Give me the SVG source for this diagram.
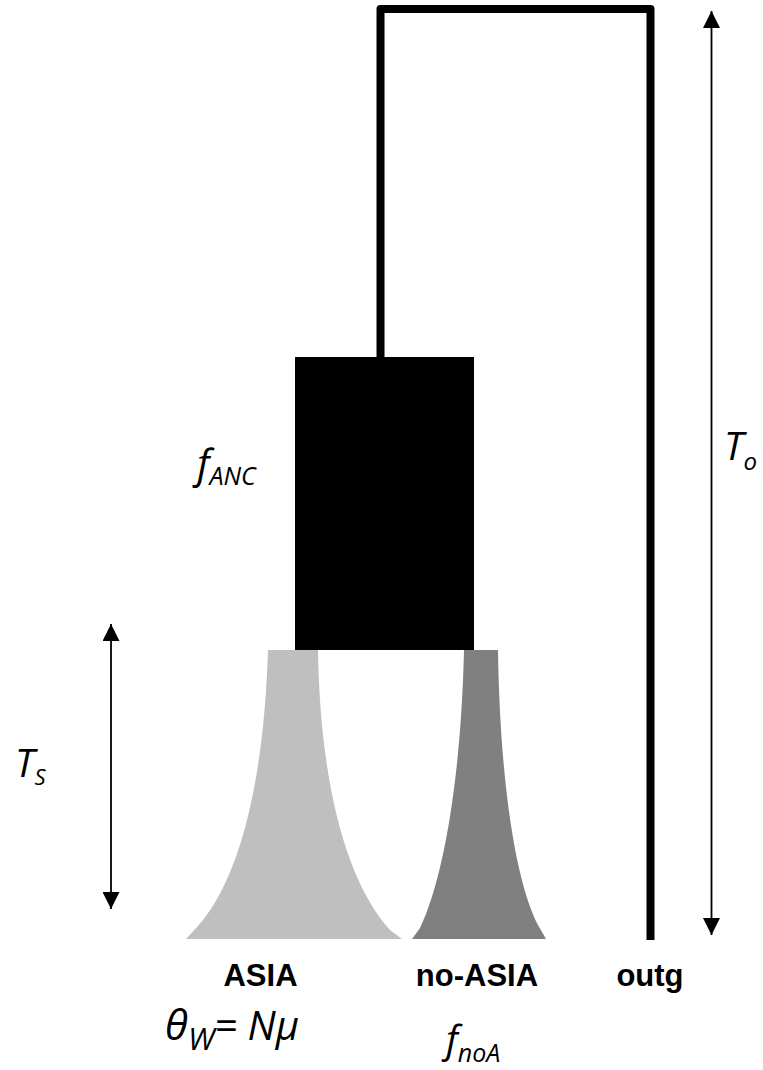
<svg xmlns="http://www.w3.org/2000/svg" width="763" height="1070" viewBox="0 0 763 1070">
<style>
.lab{font-family:"Liberation Sans",Arial,sans-serif;font-weight:bold;font-size:31px;fill:#000;text-anchor:middle}
.math{font-family:"Open Sans","Liberation Sans",sans-serif;font-style:italic;fill:#000}
.dim{stroke:#000;stroke-width:1.8;fill:none}
</style>
<defs>
<marker id="ah" viewBox="0 0 10 10" refX="10" refY="5" markerWidth="17" markerHeight="17" markerUnits="userSpaceOnUse" orient="auto-start-reverse">
<path d="M0,0 L10,5 L0,10 Z" fill="#000"/>
</marker>
</defs>
<g id="connectors">
<path d="M380.5,357 V9 H650.5 V940" fill="none" stroke="#000" stroke-width="8" stroke-linejoin="round"/>
<line class="dim" x1="711.5" y1="11" x2="711.5" y2="935" marker-start="url(#ah)" marker-end="url(#ah)"/>
<line class="dim" x1="111" y1="624" x2="111" y2="909" marker-start="url(#ah)" marker-end="url(#ah)"/>
</g>
<g id="ancestral">
<rect x="295" y="357" width="179" height="293" fill="#000"/>
</g>
<g id="asia">
<path d="M268,650 H318 C320,780 345,880 390,930 L402,939 H186 L197,927 C240,880 264,780 268,650 Z" fill="#BFBFBF"/>
</g>
<g id="noasia">
<path d="M464,650 H498 C500,780 515,880 538,925 L546,939 H412 L420,928 C443,880 461,780 464,650 Z" fill="#808080"/>
</g>
<g id="labels">
<text class="lab" x="260.5" y="986">ASIA</text>
<text class="lab" x="477" y="986">no-ASIA</text>
<text class="lab" x="650" y="986">outg</text>
<text class="math" x="197" y="478" font-size="40">f<tspan font-size="25" dy="7">ANC</tspan></text>
<text class="math" x="724" y="460" font-size="39">T<tspan font-size="24" dy="10">o</tspan></text>
<text class="math" x="15" y="777" font-size="39">T<tspan font-size="22" dy="8">S</tspan></text>
<text class="math" x="165" y="1040" font-size="42">θ<tspan font-size="31" dy="10">W</tspan><tspan dy="-10" font-size="40">= Nμ</tspan></text>
<text class="math" x="446" y="1053" font-size="38">f<tspan font-size="25" dy="9">noA</tspan></text>
</g>
</svg>
